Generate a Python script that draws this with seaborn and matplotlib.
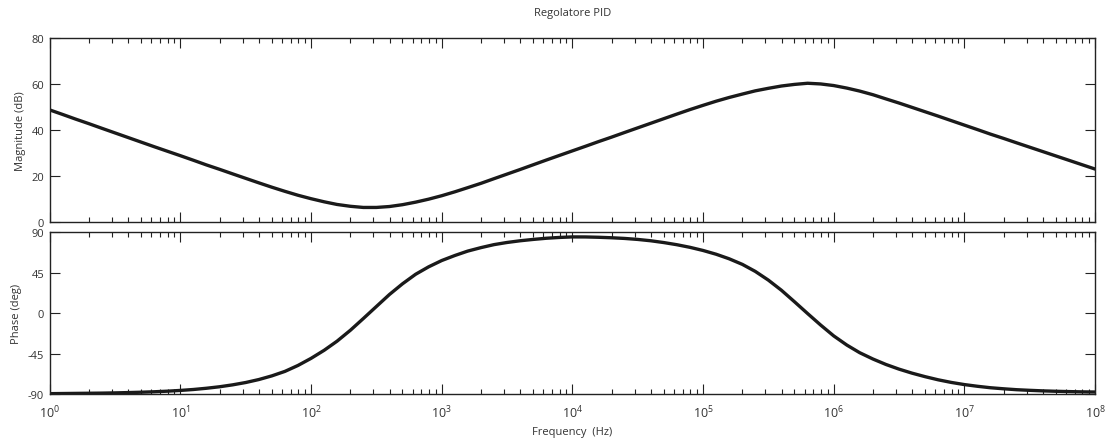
import matplotlib
matplotlib.use("Agg")
import matplotlib.pyplot as plt
import numpy as np
import pandas as pd
import seaborn as sns
from matplotlib.ticker import LogLocator, LogFormatterMathtext, NullFormatter, FixedLocator

# Sampled frequency response of the PID regulator (10 samples per decade)
freq_hz = [
    1.0, 1.26, 1.58, 2.0, 2.51, 3.16, 3.98, 5.01, 6.31, 7.94,
    1.0e1, 1.26e1, 1.58e1, 2.0e1, 2.51e1, 3.16e1, 3.98e1, 5.01e1, 6.31e1, 7.94e1,
    1.0e2, 1.26e2, 1.58e2, 2.0e2, 2.51e2, 3.16e2, 3.98e2, 5.01e2, 6.31e2, 7.94e2,
    1.0e3, 1.26e3, 1.58e3, 2.0e3, 2.51e3, 3.16e3, 3.98e3, 5.01e3, 6.31e3, 7.94e3,
    1.0e4, 1.26e4, 1.58e4, 2.0e4, 2.51e4, 3.16e4, 3.98e4, 5.01e4, 6.31e4, 7.94e4,
    1.0e5, 1.26e5, 1.58e5, 2.0e5, 2.51e5, 3.16e5, 3.98e5, 5.01e5, 6.31e5, 7.94e5,
    1.0e6, 1.26e6, 1.58e6, 2.0e6, 2.51e6, 3.16e6, 3.98e6, 5.01e6, 6.31e6, 7.94e6,
    1.0e7, 1.26e7, 1.58e7, 2.0e7, 2.51e7, 3.16e7, 3.98e7, 5.01e7, 6.31e7, 7.94e7,
    1.0e8,
]

magnitude_db = [
    48.6, 46.6, 44.6, 42.6, 40.6, 38.6, 36.6, 34.6, 32.6, 30.65,
    28.7, 26.7, 24.7, 22.75, 20.8, 18.85, 16.9, 15.0, 13.2, 11.5,
    10.0, 8.65, 7.5, 6.7, 6.2, 6.2, 6.6, 7.4, 8.5, 9.8,
    11.3, 13.0, 14.8, 16.7, 18.7, 20.7, 22.7, 24.75, 26.8, 28.8,
    30.8, 32.8, 34.8, 36.8, 38.8, 40.8, 42.8, 44.8, 46.8, 48.75,
    50.6, 52.4, 54.0, 55.5, 56.9, 58.0, 59.0, 59.7, 60.2, 59.9,
    59.2, 58.1, 56.8, 55.2, 53.4, 51.6, 49.7, 47.8, 45.9, 43.95,
    42.0, 40.05, 38.1, 36.2, 34.3, 32.4, 30.5, 28.6, 26.7, 24.8,
    22.9,
]

phase_deg = [
    -89.6, -89.45, -89.3, -89.15, -89.0, -88.75, -88.4, -88.0, -87.5, -86.85,
    -86.0, -84.95, -83.6, -81.9, -79.8, -77.2, -73.9, -69.8, -64.8, -58.2,
    -50.3, -41.3, -31.2, -19.0, -6.0, 7.4, 20.8, 32.7, 43.3, 51.6,
    58.6, 64.2, 69.1, 73.0, 76.3, 78.7, 80.6, 82.1, 83.4, 84.3,
    84.9, 84.85, 84.5, 83.95, 83.2, 82.1, 80.6, 78.6, 76.2, 73.3,
    69.8, 65.6, 60.6, 54.3, 46.5, 36.8, 25.5, 12.7, -0.4, -13.2,
    -25.3, -35.5, -44.0, -51.1, -57.1, -62.3, -66.8, -70.7, -74.2, -77.1,
    -79.5, -81.4, -83.0, -84.2, -85.2, -85.9, -86.5, -86.95, -87.3, -87.6,
    -87.8,
]

decade_ticks = [1e0, 1e1, 1e2, 1e3, 1e4, 1e5, 1e6, 1e7, 1e8]
mag_ticks = [0, 20, 40, 60, 80]
phase_ticks = [-90, -45, 0, 45, 90]

df = pd.DataFrame({"freq": freq_hz, "mag": magnitude_db, "phase": phase_deg})

sns.set_theme(style="ticks")
plt.rcParams["font.family"] = ["Open Sans", "DejaVu Sans"]
plt.rcParams["mathtext.fontset"] = "custom"
plt.rcParams["mathtext.rm"] = "Open Sans"
plt.rcParams["mathtext.it"] = "Open Sans:italic"

text_color = "#333333"
edge_color = "#222222"
line_color = "#1a1a1a"

fig = plt.figure(figsize=(11.08, 4.39), dpi=100)
ax_mag = fig.add_axes([0.0449, 0.4927, 0.9434, 0.4191])
ax_ph = fig.add_axes([0.0449, 0.1002, 0.9434, 0.3683])

sns.lineplot(data=df, x="freq", y="mag", ax=ax_mag, color=line_color,
             linewidth=2.4, sort=False, estimator=None)
sns.lineplot(data=df, x="freq", y="phase", ax=ax_ph, color=line_color,
             linewidth=2.4, sort=False, estimator=None)

for ax in (ax_mag, ax_ph):
    ax.set_xscale("log")
    ax.set_xlim(1, 1e8)
    ax.xaxis.set_major_locator(FixedLocator(decade_ticks))
    ax.xaxis.set_minor_locator(LogLocator(base=10, subs=np.arange(2, 10), numticks=200))
    ax.xaxis.set_minor_formatter(NullFormatter())
    ax.tick_params(which="both", direction="in", top=True, right=True,
                   colors=edge_color, labelcolor=text_color, labelsize=8, pad=4)
    ax.tick_params(which="major", length=7.2, width=0.8)
    ax.tick_params(which="minor", length=3.6, width=0.8)
    for sp in ax.spines.values():
        sp.set_color(edge_color)
        sp.set_linewidth(1.0)
    ax.set_xlabel("")

ax_mag.set_ylim(0, 80)
ax_mag.yaxis.set_major_locator(FixedLocator(mag_ticks))
ax_mag.xaxis.set_major_formatter(NullFormatter())
ax_mag.tick_params(axis="x", labelbottom=False)
ax_mag.set_ylabel("Magnitude (dB)", fontsize=8, color=text_color, labelpad=4)
ax_mag.set_title("Regolatore PID", fontsize=8, color=text_color, pad=16)

ax_ph.set_ylim(-90, 90)
ax_ph.yaxis.set_major_locator(FixedLocator(phase_ticks))
ax_ph.set_yticklabels([str(t) for t in phase_ticks])
ax_ph.xaxis.set_major_formatter(LogFormatterMathtext())
ax_ph.tick_params(axis="x", labelsize=9, pad=7)
ax_ph.set_ylabel("Phase (deg)", fontsize=8, color=text_color, labelpad=4)
ax_ph.set_xlabel("Frequency  (Hz)", fontsize=8, color=text_color, labelpad=4)

fig.savefig("out.png", dpi=100)
